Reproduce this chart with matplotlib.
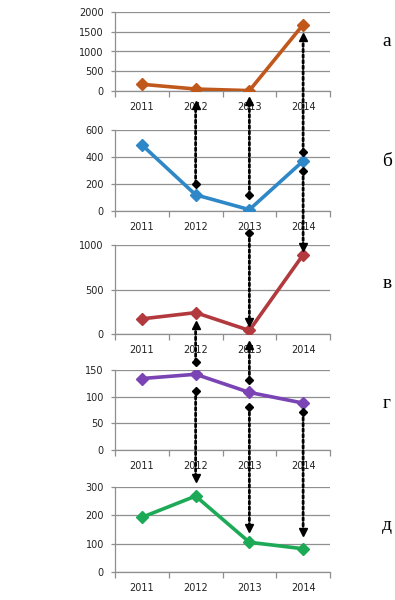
import matplotlib
matplotlib.use("Agg")
import matplotlib.pyplot as plt
from matplotlib.patches import ConnectionPatch
import numpy as np

years = ["2011", "2012", "2013", "2014"]
panel_labels = ["а", "б", "в", "г", "д"]
values_a = [170, 50, 10, 1680]
values_b = [490, 120, 10, 370]
values_v = [170, 240, 40, 890]
values_g = [134, 142, 108, 88]
values_d = [193, 268, 105, 82]
series = [values_a, values_b, values_v, values_g, values_d]
ymax = [2000, 600, 1000, 150, 300]
ystep = [500, 200, 500, 50, 100]
colors = ["#C0581C", "#2E88C8", "#B23A3E", "#7A44B4", "#1DAA57"]

# dotted arrows: (from panel, year index, tail value, to panel, head value)
arrows = [
    (1, 1, 200, 0, -360),
    (1, 2, 118, 0, -260),
    (1, 3, 437, 0, 1370),
    (1, 3, 296, 2, 977),
    (1, 2, -163, 2, 135),
    (3, 1, 165, 2, 100),
    (3, 2, 131, 2, -124),
    (3, 1, 111, 4, 332),
    (3, 2, 81, 4, 155),
    (3, 3, 71, 4, 141),
]

fig = plt.figure(figsize=(3.95, 6.0), dpi=100)
plt.rcParams['font.family'] = ['DejaVu Sans']

# axes rectangles in pixels: (top, bottom)
rects = [(12, 91), (130, 211), (245, 334), (370, 450), (487, 572)]
W, H = 395.0, 600.0
left, right = 115, 330
label_y = [42, 162, 283, 403, 525]

axes = []
grid_c = "#8f8f8f"
for i, (top, bot) in enumerate(rects):
    ax = fig.add_axes([left / W, 1 - bot / H, (right - left) / W, (bot - top) / H])
    ax.set_facecolor("none")
    x = np.arange(len(years))
    ax.plot(x, series[i], color=colors[i], lw=2.6, marker="D", ms=6.5,
            mfc=colors[i], mec=colors[i], zorder=3)
    ax.set_xlim(-0.5, len(years) - 0.5)
    ax.set_ylim(0, ymax[i])
    ax.set_yticks(np.arange(0, ymax[i] + 1, ystep[i]))
    ax.yaxis.grid(True, color=grid_c, lw=0.9)
    ax.set_axisbelow(True)
    for s in ["top", "right"]:
        ax.spines[s].set_visible(False)
    for s in ["left", "bottom"]:
        ax.spines[s].set_color(grid_c)
        ax.spines[s].set_linewidth(0.9)
    ax.set_xticks(np.arange(-0.5, len(years), 1.0))
    ax.set_xticklabels([])
    ax.set_xticks(x, minor=True)
    ax.set_xticklabels(years, minor=True)
    ax.tick_params(axis="x", which="major", length=4, direction="out", color=grid_c, width=0.9)
    ax.tick_params(axis="x", which="minor", length=0, pad=8, labelsize=7, labelcolor="#222222")
    ax.tick_params(axis="y", length=3, color=grid_c, width=0.9, pad=5, labelsize=7,
                   labelcolor="#222222")
    fig.text(387 / W, 1 - label_y[i] / H, panel_labels[i], fontsize=14,
             family=["Liberation Serif", "DejaVu Serif"], ha="center", va="center")
    axes.append(ax)

for (pf, xi, yf, pt, yt) in arrows:
    con = ConnectionPatch(xyA=(xi, yf), coordsA=axes[pf].transData,
                          xyB=(xi, yt), coordsB=axes[pt].transData,
                          arrowstyle="-", linestyle=(0, (1, 1)), lw=2.0, color="black")
    fig.add_artist(con)
    axes[pf].plot([xi], [yf], marker="D", ms=4.5, color="black", clip_on=False, zorder=10)
    up = pt < pf
    axes[pt].plot([xi], [yt], marker="^" if up else "v", ms=5.5, color="black",
                  clip_on=False, zorder=10)

fig.savefig("out.png", dpi=100)
